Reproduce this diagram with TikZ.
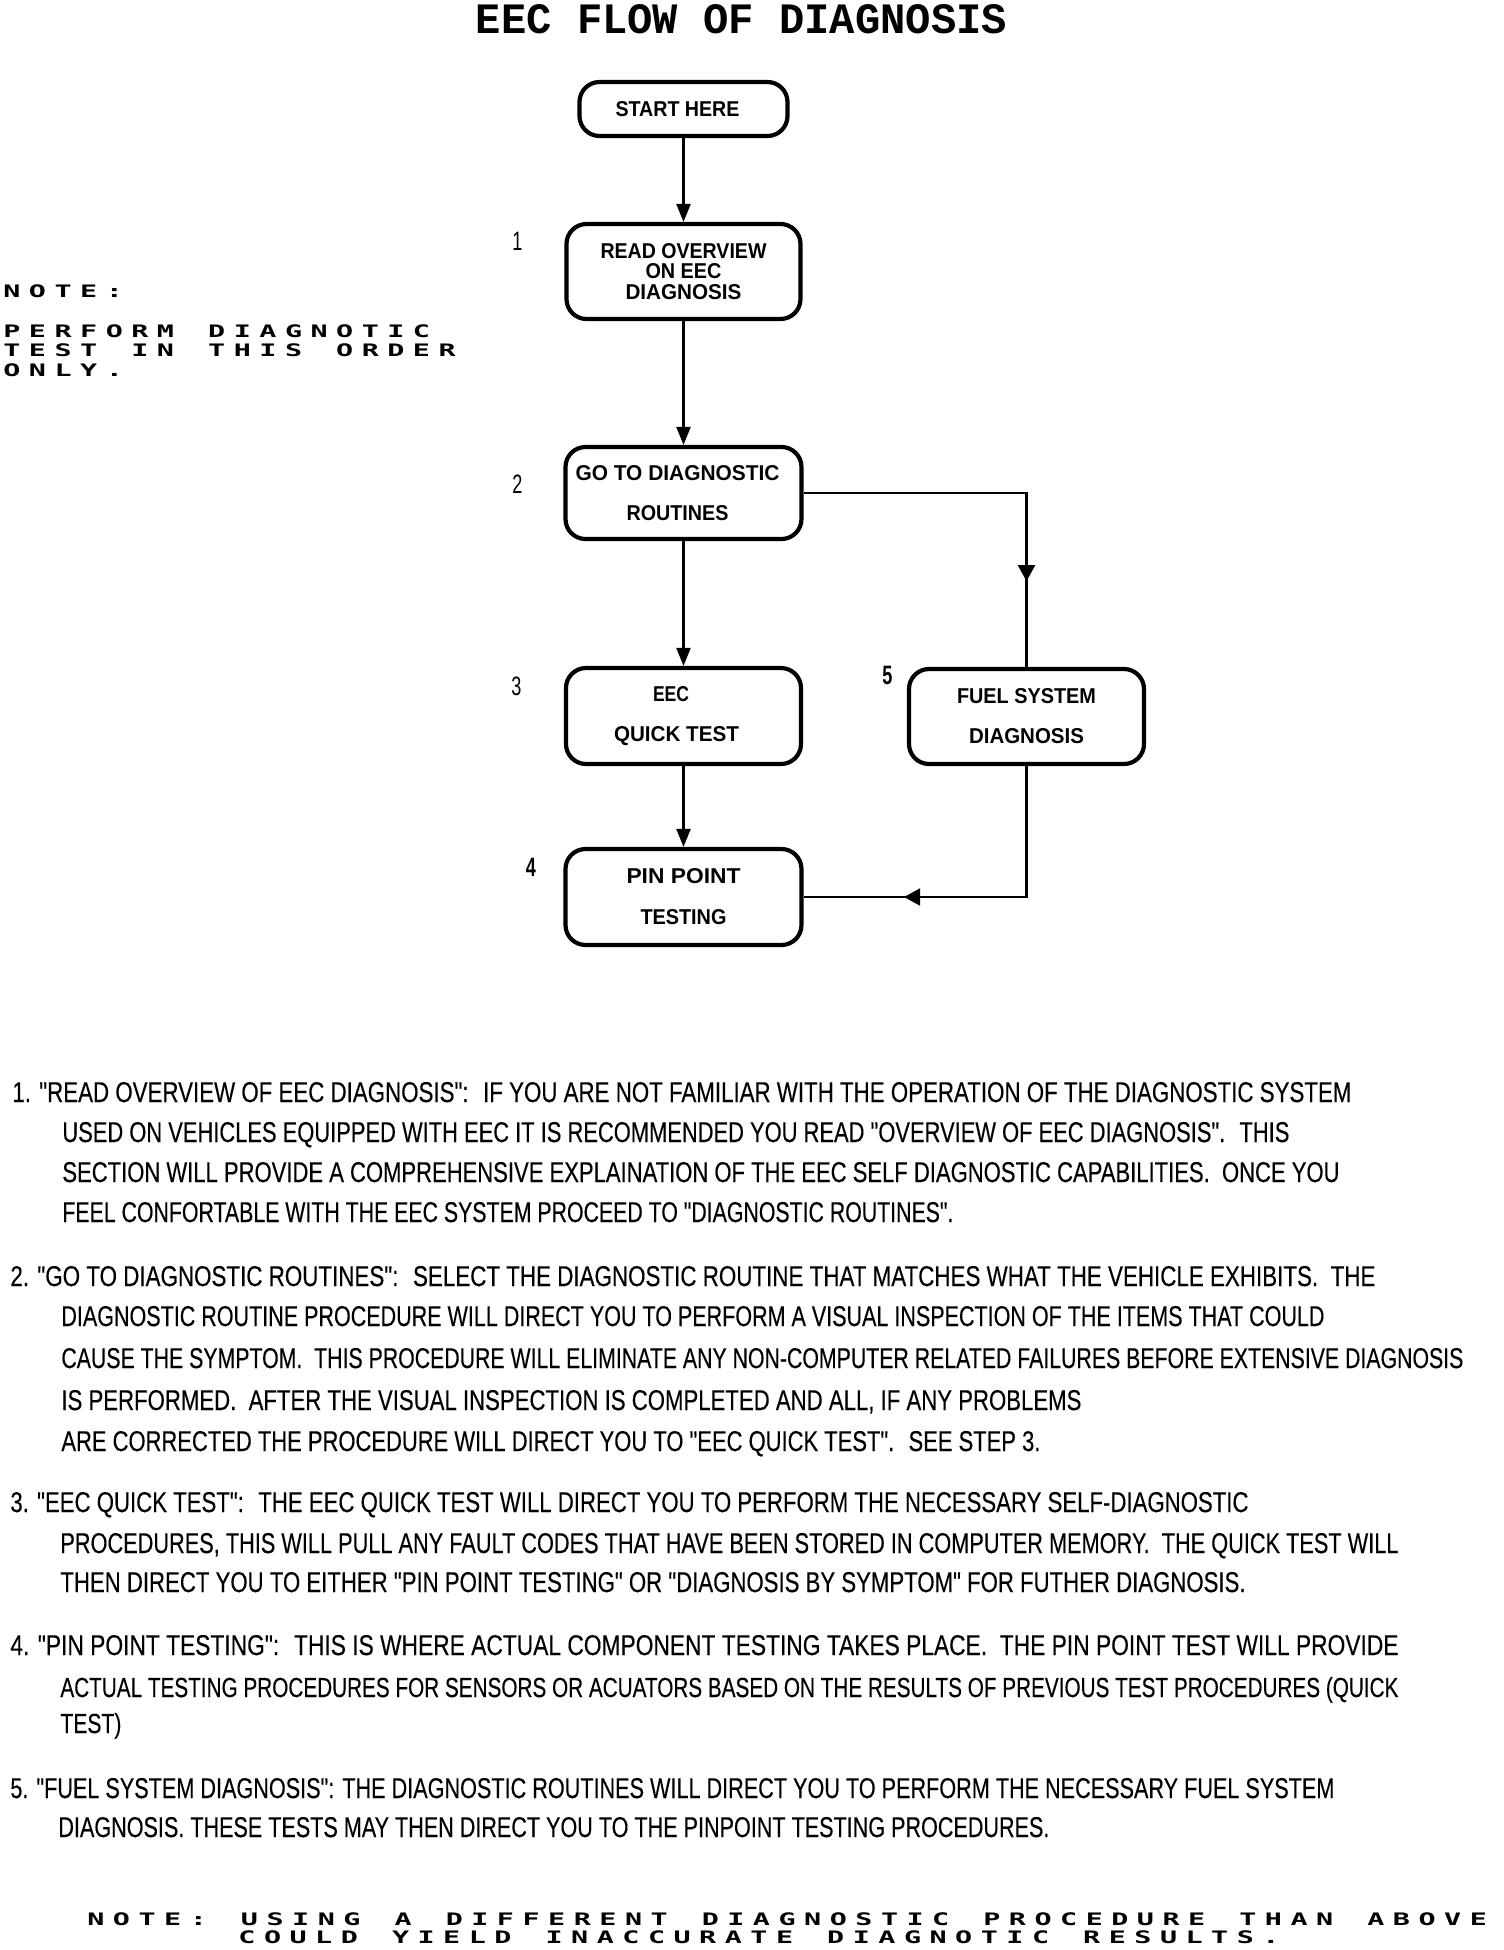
\documentclass[tikz,border=0pt]{standalone}
\usepackage{fontspec}
\usepackage{graphicx}
\usetikzlibrary{arrows.meta,decorations.markings}
\setmainfont{Liberation Sans}
\newfontfamily\bodyfont{Liberation Sans}[FakeBold=0.3]
\newfontfamily\titlefont{Liberation Mono}
\newfontfamily\notefont{DejaVu Sans Mono}

\makeatletter
\newcommand\spreadtext[1]{\spread@#1\relax}
\def\spread@#1{\ifx#1\relax\else\makebox[12.8pt][l]{\scalebox{1.65}[1]{#1}}\expandafter\spread@\fi}
\makeatother
% box text line: [trailing kern] {width} {text}
\newcommand\bt[3][0pt]{\resizebox{#2}{7.5pt}{\bfseries #3}\hspace*{#1}}

\begin{document}
\begin{tikzpicture}[x=0.5pt,y=-0.5pt,
  box/.style={draw, line width=2.1pt, rounded corners=10pt, align=center, inner sep=0pt},
  conn/.style={line width=1.1pt},
  arr/.style={conn, -{Triangle[length=9pt,width=7pt]}},
  midarrow/.style={postaction={decorate}, decoration={markings,
     mark=at position #1 with {\arrow{Triangle[length=8pt,width=8.5pt]}}}},
  bodyl/.style={anchor=base west, inner sep=0pt},
  notel/.style={anchor=base west, inner sep=0pt, font=\notefont\bfseries\fontsize{8.6pt}{10pt}\selectfont},
  numl/.style={inner sep=0pt, font=\fontsize{13.3pt}{14pt}\selectfont}
]
\useasboundingbox (0,0) rectangle (1504,1950);

% title
\node[anchor=base, inner sep=0pt] (title) at (741.5,33) {\resizebox{265.5pt}{14.5pt}{\titlefont\bfseries EEC FLOW OF DIAGNOSIS}};

% boxes
\node[box, minimum width=104pt, minimum height=27pt, font=\fontsize{10pt}{12pt}\selectfont] (start) at (683.5,109) {\bt[6pt]{62pt}{START HERE}};
\node[box, minimum width=117pt, minimum height=47.5pt, font=\fontsize{10pt}{10.15pt}\selectfont] (read) at (683.5,271.5) {\bt{83pt}{READ OVERVIEW}\\\bt[7pt]{38pt}{ON EEC}\\\bt{58pt}{DIAGNOSIS}};
\node[box, minimum width=118pt, minimum height=46pt, font=\fontsize{10pt}{20.25pt}\selectfont] (go) at (683.5,493) {\bt[6pt]{102pt}{GO TO DIAGNOSTIC}\\\bt[6pt]{51pt}{ROUTINES}};
\node[box, minimum width=117.5pt, minimum height=48pt, font=\fontsize{10pt}{20pt}\selectfont] (eec) at (683.5,716) {\bt[12.5pt]{18pt}{EEC}\\\bt[7pt]{62.5pt}{QUICK TEST}};
\node[box, minimum width=117.5pt, minimum height=47.5pt, font=\fontsize{10pt}{20pt}\selectfont] (fuel) at (1026.5,716.5) {\bt{69.5pt}{FUEL SYSTEM}\\\bt{57.5pt}{DIAGNOSIS}};
\node[box, minimum width=118pt, minimum height=48pt, font=\fontsize{10pt}{20.5pt}\selectfont] (pin) at (683.5,897) {\bt{57pt}{PIN POINT}\\\bt{43pt}{TESTING}};

% step numbers
\node[numl] (n1) at (517.5,241) {\scalebox{0.68}[1]{1}};
\node[numl] (n2) at (517.5,484) {\scalebox{0.68}[1]{2}};
\node[numl] (n3) at (516.5,686) {\scalebox{0.68}[1]{3}};
\node[numl] (n4) at (531,867.5) {\scalebox{0.68}[1]{\bfseries 4}};
\node[numl] (n5) at (887.5,675) {\scalebox{0.68}[1]{\bfseries 5}};

% connectors
\draw[arr] (start) -- (read);
\draw[arr] (read) -- (go);
\draw[arr] (go) -- (eec);
\draw[arr] (eec) -- (pin);
\draw[conn, midarrow=0.784] (go.east) -| (fuel.north);
\draw[conn, midarrow=0.716] (fuel.south) |- (pin.east);

% side note
\node[notel] (note1) at (3,297) {\spreadtext{NOTE:}};
\node[notel] (note2) at (3,337) {\spreadtext{PERFORM~DIAGNOTIC}};
\node[notel] (note3) at (3,356) {\spreadtext{TEST~IN~THIS~ORDER}};
\node[notel] (note4) at (3,376) {\spreadtext{ONLY.}};

% body text
\node[bodyl] (l1) at (12,1102) {\resizebox{669.5pt}{10pt}{\bodyfont 1. "READ OVERVIEW OF EEC DIAGNOSIS": ~IF YOU ARE NOT FAMILIAR WITH THE OPERATION OF THE DIAGNOSTIC SYSTEM}};
\node[bodyl] (l2) at (62,1142) {\resizebox{613.5pt}{10pt}{\bodyfont USED ON VEHICLES EQUIPPED WITH EEC IT IS RECOMMENDED YOU READ "OVERVIEW OF EEC DIAGNOSIS". ~THIS}};
\node[bodyl] (l3) at (62,1182) {\resizebox{638.5pt}{10pt}{\bodyfont SECTION WILL PROVIDE A COMPREHENSIVE EXPLAINATION OF THE EEC SELF DIAGNOSTIC CAPABILITIES. ~ONCE YOU}};
\node[bodyl] (l4) at (62,1222) {\resizebox{445.5pt}{10pt}{\bodyfont FEEL CONFORTABLE WITH THE EEC SYSTEM PROCEED TO "DIAGNOSTIC ROUTINES".}};

\node[bodyl] (l5) at (10,1286) {\resizebox{682.5pt}{10pt}{\bodyfont 2. "GO TO DIAGNOSTIC ROUTINES": ~SELECT THE DIAGNOSTIC ROUTINE THAT MATCHES WHAT THE VEHICLE EXHIBITS. ~THE}};
\node[bodyl] (l6) at (61,1326) {\resizebox{631.5pt}{10pt}{\bodyfont DIAGNOSTIC ROUTINE PROCEDURE WILL DIRECT YOU TO PERFORM A VISUAL INSPECTION OF THE ITEMS THAT COULD}};
\node[bodyl] (l7) at (61,1368) {\resizebox{701pt}{10pt}{\bodyfont CAUSE THE SYMPTOM. ~THIS PROCEDURE WILL ELIMINATE ANY NON-COMPUTER RELATED FAILURES BEFORE EXTENSIVE DIAGNOSIS}};
\node[bodyl] (l8) at (61,1410) {\resizebox{510pt}{10pt}{\bodyfont IS PERFORMED. ~AFTER THE VISUAL INSPECTION IS COMPLETED AND ALL, IF ANY PROBLEMS}};
\node[bodyl] (l9) at (61,1451) {\resizebox{489.5pt}{10pt}{\bodyfont ARE CORRECTED THE PROCEDURE WILL DIRECT YOU TO "EEC QUICK TEST". ~SEE STEP 3.}};

\node[bodyl] (l10) at (10,1512) {\resizebox{619pt}{10pt}{\bodyfont 3. "EEC QUICK TEST": ~THE EEC QUICK TEST WILL DIRECT YOU TO PERFORM THE NECESSARY SELF-DIAGNOSTIC}};
\node[bodyl] (l11) at (60,1553) {\resizebox{669pt}{10pt}{\bodyfont PROCEDURES, THIS WILL PULL ANY FAULT CODES THAT HAVE BEEN STORED IN COMPUTER MEMORY. ~THE QUICK TEST WILL}};
\node[bodyl] (l12) at (60,1592) {\resizebox{592.5pt}{10pt}{\bodyfont THEN DIRECT YOU TO EITHER "PIN POINT TESTING" OR "DIAGNOSIS BY SYMPTOM" FOR FUTHER DIAGNOSIS.}};

\node[bodyl] (l13) at (10,1655) {\resizebox{694pt}{10pt}{\bodyfont 4. "PIN POINT TESTING": ~THIS IS WHERE ACTUAL COMPONENT TESTING TAKES PLACE. ~THE PIN POINT TEST WILL PROVIDE}};
\node[bodyl] (l14) at (60,1697) {\resizebox{669pt}{10pt}{\bodyfont ACTUAL TESTING PROCEDURES FOR SENSORS OR ACUATORS BASED ON THE RESULTS OF PREVIOUS TEST PROCEDURES (QUICK}};
\node[bodyl] (l15) at (60,1733) {\resizebox{30.5pt}{10pt}{\bodyfont TEST)}};

\node[bodyl] (l16) at (10,1798) {\resizebox{662pt}{10pt}{\bodyfont 5. "FUEL SYSTEM DIAGNOSIS": THE DIAGNOSTIC ROUTINES WILL DIRECT YOU TO PERFORM THE NECESSARY FUEL SYSTEM}};
\node[bodyl] (l17) at (58,1837) {\resizebox{495.5pt}{10pt}{\bodyfont DIAGNOSIS. THESE TESTS MAY THEN DIRECT YOU TO THE PINPOINT TESTING PROCEDURES.}};

% bottom note
\node[notel] (bn1) at (87,1925) {\spreadtext{NOTE:~USING~A~DIFFERENT~DIAGNOSTIC~PROCEDURE~THAN~ABOVE}};
\node[notel] (bn2) at (238,1943) {\spreadtext{COULD~YIELD~INACCURATE~DIAGNOTIC~RESULTS.}};
\end{tikzpicture}
\end{document}
